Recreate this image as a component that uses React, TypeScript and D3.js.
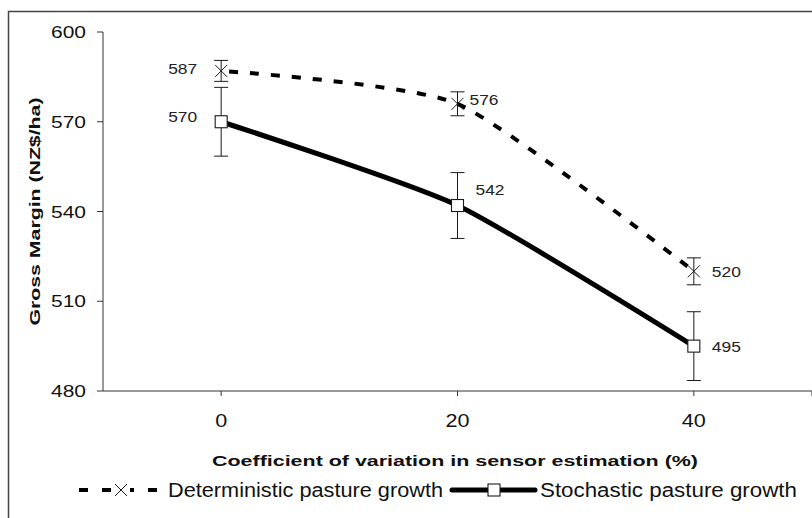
import React from "react";
import * as d3 from "d3";

// coefficient of variation (%)
const cvLevels = [0, 20, 40];
const xTicks = [0, 20, 40, 50];
const xTickLabels = ["0", "20", "40"];
const yTicks = [600, 570, 540, 510, 480];

const deterministic = [587, 576, 520];
const deterministicErr = [3.5, 4, 4.5];
const stochastic = [570, 542, 495];
const stochasticErr = [11.5, 11, 11.5];

const seriesNames = ["Deterministic pasture growth", "Stochastic pasture growth"];
const xTitle = "Coefficient of variation in sensor estimation (%)";
const yTitle = "Gross Margin (NZ$/ha)";

// label nudges (dx, dy, anchor) for each data label
const detLabelPos = [[-24, -2, "end"], [12, -4, "start"], [18, 0, "start"]];
const stoLabelPos = [[-24, -5, "end"], [18, -16, "start"], [18, 0, "start"]];

const W = 812;
const H = 518;
const FONT = "'Liberation Sans', Arial, sans-serif";
const INK = "#1a1a1a";

const App = () => {
  const x = d3.scaleLinear().domain([-10, 50]).range([103, 812]);
  const y = d3.scaleLinear().domain([480, 600]).range([391, 32]);

  const line = d3
    .line<number>()
    .x((d, i) => x(cvLevels[i]))
    .y((d) => y(d))
    .curve(d3.curveCardinal.tension(0.4));

  const errorBars = (vals: number[], errs: number[], key: string) =>
    vals.map((v, i) => {
      const cx = x(cvLevels[i]);
      const top = y(v + errs[i]);
      const bot = y(v - errs[i]);
      return (
        <g key={key + i} stroke={INK} strokeWidth={1}>
          <line x1={cx} x2={cx} y1={top} y2={bot} />
          <line x1={cx - 7} x2={cx + 7} y1={top} y2={top} />
          <line x1={cx - 7} x2={cx + 7} y1={bot} y2={bot} />
        </g>
      );
    });

  const cross = (cx: number, cy: number, key: string) => (
    <g key={key} stroke={INK} strokeWidth={1}>
      <line x1={cx - 6} x2={cx + 6} y1={cy - 6} y2={cy + 6} />
      <line x1={cx - 6} x2={cx + 6} y1={cy + 6} y2={cy - 6} />
    </g>
  );

  const square = (cx: number, cy: number, key: string) => (
    <rect key={key} x={cx - 6} y={cy - 6} width={12} height={12} fill="#fff" stroke={INK} strokeWidth={1.1} />
  );

  const dataLabels = (vals: number[], pos: any[], key: string) =>
    vals.map((v, i) => (
      <text
        key={key + i}
        x={x(cvLevels[i]) + pos[i][0]}
        y={y(v) + pos[i][1]}
        dy="0.36em"
        textAnchor={pos[i][2]}
        fontSize={15}
        textLength={29}
        lengthAdjust="spacingAndGlyphs"
        fill="#222"
      >
        {v}
      </text>
    ));

  return (
    <svg
      width={W}
      height={H}
      style={{ position: "absolute", left: 0, top: 0, background: "#fff" }}
      fontFamily={FONT}
    >
      <rect x={8.5} y={11.5} width={830} height={530} fill="none" stroke="#444" strokeWidth={1.5} />

      {/* y axis */}
      <line x1={x(-10)} x2={x(-10)} y1={y(600)} y2={y(480)} stroke="#333" />
      {yTicks.map((t) => (
        <g key={"yt" + t}>
          <line x1={x(-10) - 6} x2={x(-10)} y1={y(t)} y2={y(t)} stroke="#333" />
          <text
            x={86}
            y={y(t)}
            dy="0.36em"
            textAnchor="end"
            fontSize={17}
            textLength={35}
            lengthAdjust="spacingAndGlyphs"
            fill="#111"
          >
            {t}
          </text>
        </g>
      ))}

      {/* x axis */}
      <line x1={x(-10)} x2={x(50)} y1={y(480)} y2={y(480)} stroke="#333" />
      {xTicks.map((t) => (
        <line key={"xt" + t} x1={x(t)} x2={x(t)} y1={y(480)} y2={y(480) + 5} stroke="#333" />
      ))}
      {cvLevels.map((c, i) => (
        <text
          key={"xl" + c}
          x={x(c)}
          y={420}
          dy="0.36em"
          textAnchor="middle"
          fontSize={19}
          textLength={xTickLabels[i].length * 12}
          lengthAdjust="spacingAndGlyphs"
          fill="#111"
        >
          {xTickLabels[i]}
        </text>
      ))}

      {/* titles */}
      <text
        x={455}
        y={461}
        dy="0.36em"
        textAnchor="middle"
        fontSize={14}
        fontWeight="bold"
        textLength={486}
        lengthAdjust="spacingAndGlyphs"
        fill="#111"
      >
        {xTitle}
      </text>
      <text
        transform={`translate(40, ${(y(600) + y(480)) / 2}) rotate(-90)`}
        textAnchor="middle"
        fontSize={15}
        fontWeight="bold"
        textLength={228}
        lengthAdjust="spacingAndGlyphs"
        fill="#111"
      >
        {yTitle}
      </text>

      {/* error bars */}
      {errorBars(deterministic, deterministicErr, "de")}
      {errorBars(stochastic, stochasticErr, "se")}

      {/* lines */}
      <path
        d={line(deterministic) || ""}
        fill="none"
        stroke="#000"
        strokeWidth={4}
        strokeDasharray="9,12"
        strokeDashoffset={-8}
      />
      <path d={line(stochastic) || ""} fill="none" stroke="#000" strokeWidth={5} strokeLinejoin="round" />

      {/* markers */}
      {deterministic.map((v, i) => cross(x(cvLevels[i]), y(v), "dm" + i))}
      {stochastic.map((v, i) => square(x(cvLevels[i]), y(v), "sm" + i))}

      {/* data labels */}
      {dataLabels(deterministic, detLabelPos, "dl")}
      {dataLabels(stochastic, stoLabelPos, "sl")}

      {/* legend */}
      <g>
        <line x1={79} x2={161} y1={490} y2={490} stroke="#000" strokeWidth={4} strokeDasharray="9,14" />
        <rect x={112} y={482} width={18} height={16} fill="#fff" />
        {cross(121, 490, "lgx")}
        <text
          x={168}
          y={490}
          dy="0.36em"
          fontSize={20}
          textLength={275}
          lengthAdjust="spacingAndGlyphs"
          fill="#111"
        >
          {seriesNames[0]}
        </text>
        <line x1={452} x2={535} y1={490} y2={490} stroke="#000" strokeWidth={5} strokeLinecap="round" />
        {square(494, 490, "lgs")}
        <text
          x={540}
          y={490}
          dy="0.36em"
          fontSize={20}
          textLength={257}
          lengthAdjust="spacingAndGlyphs"
          fill="#111"
        >
          {seriesNames[1]}
        </text>
      </g>
    </svg>
  );
};

export default App;
